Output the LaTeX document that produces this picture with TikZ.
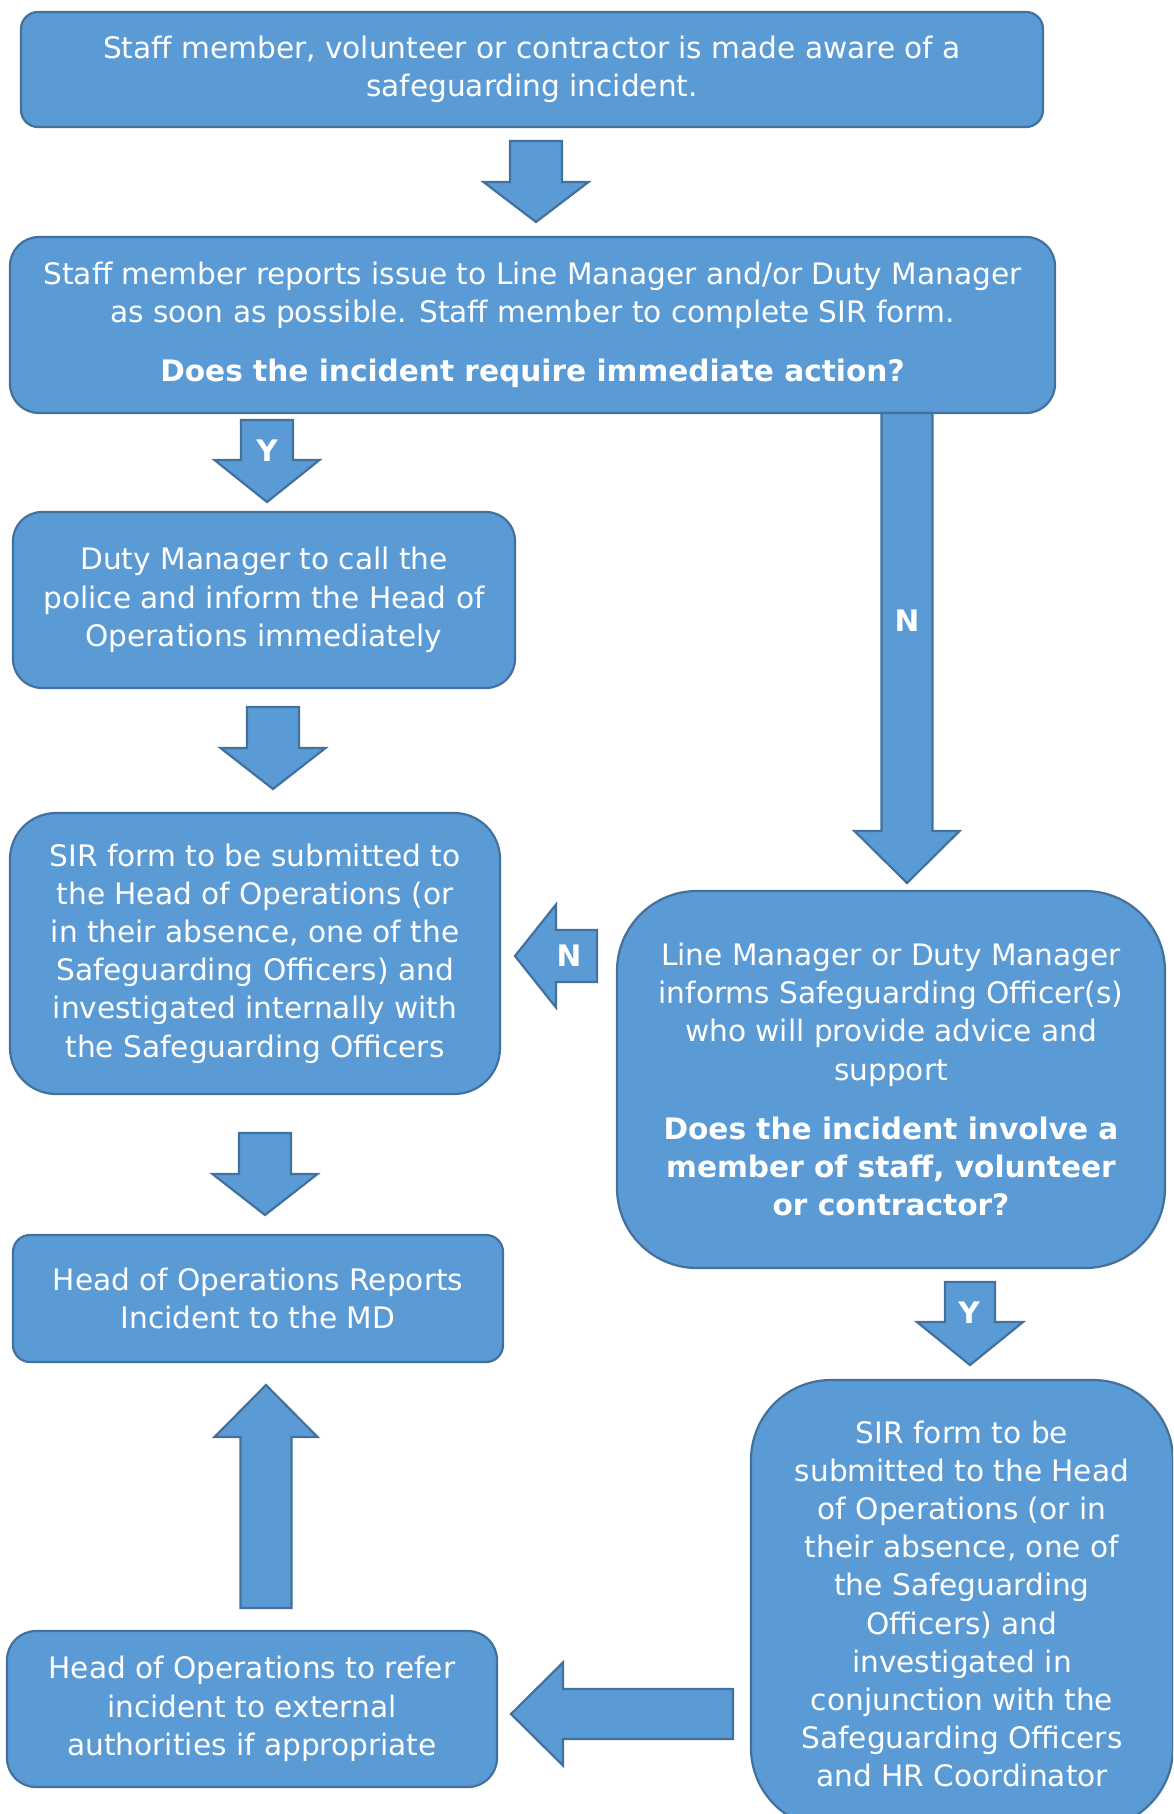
\documentclass[tikz,border=0pt]{standalone}
\usepackage{fontspec}
\setmainfont{DejaVu Sans}
\usepackage{xcolor}

\definecolor{boxblue}{RGB}{91,155,213}
\definecolor{edgeblue}{RGB}{65,113,156}

\tikzset{
  stepbox/.style={draw=edgeblue, fill=boxblue, line width=1.1pt, text=white,
    align=center, inner sep=0pt, font=\fontsize{14.8}{19.1}\selectfont},
  blockarrow/.style={draw=edgeblue, fill=boxblue, line width=1.1pt},
  arrowlabel/.style={text=white, inner sep=0pt, font=\fontsize{14.8}{19.1}\selectfont\bfseries}
}

% start, angle, length, head length, half shaft, half head
\newcommand{\fatarrow}[6]{%
  \draw[blockarrow, shift={#1}, rotate=#2] (0,-#5) -- ({#3-#4},-#5) -- ({#3-#4},-#6)
    -- (#3,0) -- ({#3-#4},#6) -- ({#3-#4},#5) -- (0,#5) -- cycle;}

\begin{document}
\begin{tikzpicture}[x=0.5pt, y=-0.5pt]
        \clip (0,0) rectangle (1173,1814);
        \fill[white] (0,0) rectangle (1173,1814);

        \node[stepbox, minimum width=511pt, minimum height=57.5pt, rounded corners=8.5pt] (aware) at (532,69.5)
            {Staff member, volunteer or contractor is made aware of a\\safeguarding incident.};
        \node[stepbox, minimum width=522.5pt, minimum height=88pt, rounded corners=14.5pt] (report) at (532.5,325)
            {Staff member reports issue to Line Manager and/or Duty Manager\\
             as soon as possible. Staff member to complete SIR form.\\[10.5pt]
             \textbf{Does the incident require immediate action?}};
        \node[stepbox, minimum width=251pt, minimum height=88pt, rounded corners=14.5pt] (police) at (264,600)
            {Duty Manager to call the\\police and inform the Head of\\Operations immediately};
        \node[stepbox, minimum width=245pt, minimum height=140.5pt, rounded corners=23pt] (internal) at (255,953.5)
            {SIR form to be submitted to\\the Head of Operations (or\\in their absence, one of the\\
             Safeguarding Officers) and\\investigated internally with\\the Safeguarding Officers};
        \node[stepbox, minimum width=245pt, minimum height=63.5pt, rounded corners=8.5pt] (tomd) at (258,1298.5)
            {Head of Operations Reports\\Incident to the MD};
        \node[stepbox, minimum width=245pt, minimum height=78pt, rounded corners=14.5pt] (external) at (252,1709)
            {Head of Operations to refer\\incident to external\\authorities if appropriate};
        \node[stepbox, minimum width=274pt, minimum height=188.5pt, rounded corners=40pt] (informs) at (891,1079.5)
            {Line Manager or Duty Manager\\informs Safeguarding Officer(s)\\who will provide advice and\\support\\[10.5pt]
             \textbf{Does the incident involve a}\\\textbf{member of staff, volunteer}\\\textbf{or contractor?}};
        \node[stepbox, minimum width=211pt, minimum height=224pt, rounded corners=40pt] (hrcase) at (962,1604)
            {SIR form to be\\submitted to the Head\\of Operations (or in\\their absence, one of\\the Safeguarding\\
             Officers) and\\investigated in\\conjunction with the\\Safeguarding Officers\\and HR Coordinator};

        \fatarrow{(536,141)}{-90}{81}{40}{26}{52.5}
        \fatarrow{(267,420)}{-90}{82}{42}{26}{52.5}
        \fatarrow{(273,707)}{-90}{82}{41}{26}{52.5}
        \fatarrow{(265,1133)}{-90}{82}{41}{26}{52.5}
        \fatarrow{(266,1608)}{90}{223}{52}{25.5}{51.5}
        \fatarrow{(733,1714)}{180}{222}{52}{25}{51.5}
        \fatarrow{(970,1282)}{-90}{83}{43}{25}{53}
        \fatarrow{(907,413)}{-90}{470}{52}{25.5}{52.5}
        \fatarrow{(597,956)}{180}{82}{41}{26}{51.5}

        \node[arrowlabel] (yesleft) at (267,451) {Y};
        \node[arrowlabel] (yesright) at (969,1313) {Y};
        \node[arrowlabel] (nobig) at (907,621) {N};
        \node[arrowlabel] (nosmall) at (569,956) {N};
    \end{tikzpicture}
\end{document}
